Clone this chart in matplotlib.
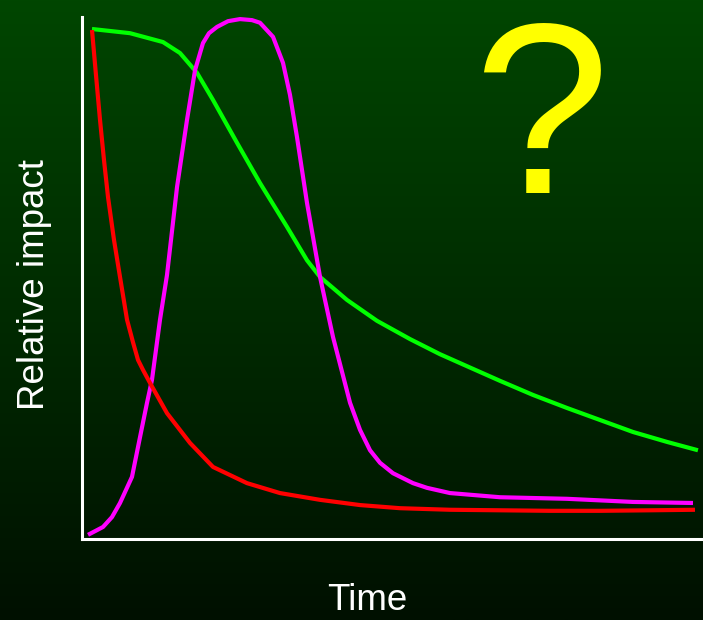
import numpy as np
import matplotlib
matplotlib.use('Agg')
import matplotlib.pyplot as plt
from matplotlib.colors import LinearSegmentedColormap

plt.rcParams['font.family'] = ['Liberation Sans', 'DejaVu Sans']

# curves, x = time (0-100), y = relative impact (0-100)
green_x = [1.61, 7.73, 13.04, 15.78, 18.52, 21.10, 24.96, 28.66, 33.01, 36.23,
           38.33, 42.67, 47.50, 52.82, 57.65, 62.00, 67.31, 72.62, 78.10, 83.41,
           88.73, 94.20, 99.19]
green_y = [97.7, 96.9, 95.2, 93.1, 89.3, 84.1, 75.9, 68.2, 59.8, 53.4,
           50.2, 45.8, 41.8, 38.3, 35.4, 33.1, 30.3, 27.6, 25.1, 22.8,
           20.5, 18.6, 17.0]

red_x = [1.61, 2.25, 2.90, 3.54, 4.19, 5.15, 6.12, 7.25, 8.21, 9.02, 9.82, 10.95,
         13.69, 17.39, 21.10, 26.57, 31.88, 38.33, 44.77, 51.21, 59.26, 67.31,
         75.36, 83.41, 91.47, 98.71]
red_y = [97.5, 88.9, 80.3, 72.6, 65.5, 57.3, 50.2, 42.0, 37.7, 34.3, 32.4, 29.9,
         24.1, 18.4, 13.8, 10.7, 8.8, 7.5, 6.5, 5.9, 5.6, 5.5, 5.4, 5.4, 5.5, 5.6]

magenta_x = [0.97, 3.38, 4.83, 6.12, 8.05, 9.34, 10.47, 11.27, 12.56, 13.69, 15.30,
             16.91, 18.20, 19.48, 20.45, 21.74, 23.51, 25.44, 27.38, 28.66, 30.76,
             32.37, 33.49, 34.62, 36.23, 38.33, 40.42, 43.16, 44.77, 46.38, 47.99,
             50.08, 53.30, 55.56, 59.26, 67.31, 78.10, 88.73, 98.39]
magenta_y = [0.8, 2.3, 4.2, 6.9, 11.9, 19.5, 26.1, 30.5, 42.0, 50.6, 67.4,
             80.3, 89.8, 95.0, 96.9, 98.1, 99.2, 99.6, 99.4, 98.9, 96.2,
             91.2, 85.1, 77.0, 64.4, 50.2, 38.7, 26.1, 20.9, 17.0, 14.6,
             12.6, 10.7, 9.8, 8.8, 8.0, 7.7, 7.1, 6.9]

fig = plt.figure(figsize=(7.03, 6.2), dpi=100)

# background gradient, dark green at the top fading to almost black
bg = fig.add_axes([0, 0, 1, 1], zorder=0)
cmap = LinearSegmentedColormap.from_list('bg', ['#004600', '#001000'])
bg.imshow(np.linspace(0, 1, 256).reshape(-1, 1), aspect='auto', cmap=cmap,
          extent=[0, 1, 0, 1])
bg.set_axis_off()

ax = fig.add_axes([82 / 703, (620 - 539) / 620, 621 / 703, 522 / 620], zorder=1)
ax.patch.set_alpha(0)
ax.plot(green_x, green_y, color='#00ff00', linewidth=3, solid_capstyle='butt')
ax.plot(magenta_x, magenta_y, color='#ff00ff', linewidth=3, solid_capstyle='butt')
ax.plot(red_x, red_y, color='#ff0000', linewidth=3, solid_capstyle='butt')
ax.set_xlim(0, 100)
ax.set_ylim(0, 100)

for side in ['top', 'right']:
    ax.spines[side].set_visible(False)
for side in ['left', 'bottom']:
    ax.spines[side].set_color('white')
    ax.spines[side].set_linewidth(2.2)
ax.set_xticks([])
ax.set_yticks([])

fig.text(35 / 703, 1 - 285 / 620, 'Relative impact', rotation=90, color='white',
         fontsize=26.5, ha='center', va='center')
fig.text(367 / 703, 1 - 601 / 620, 'Time', color='white', fontsize=26.5,
         ha='center', va='center')
fig.text(541 / 703, 1 - 193 / 620, '?', color='#ffff00', fontsize=176,
         ha='center', va='baseline')

fig.savefig('out.png', dpi=100)
